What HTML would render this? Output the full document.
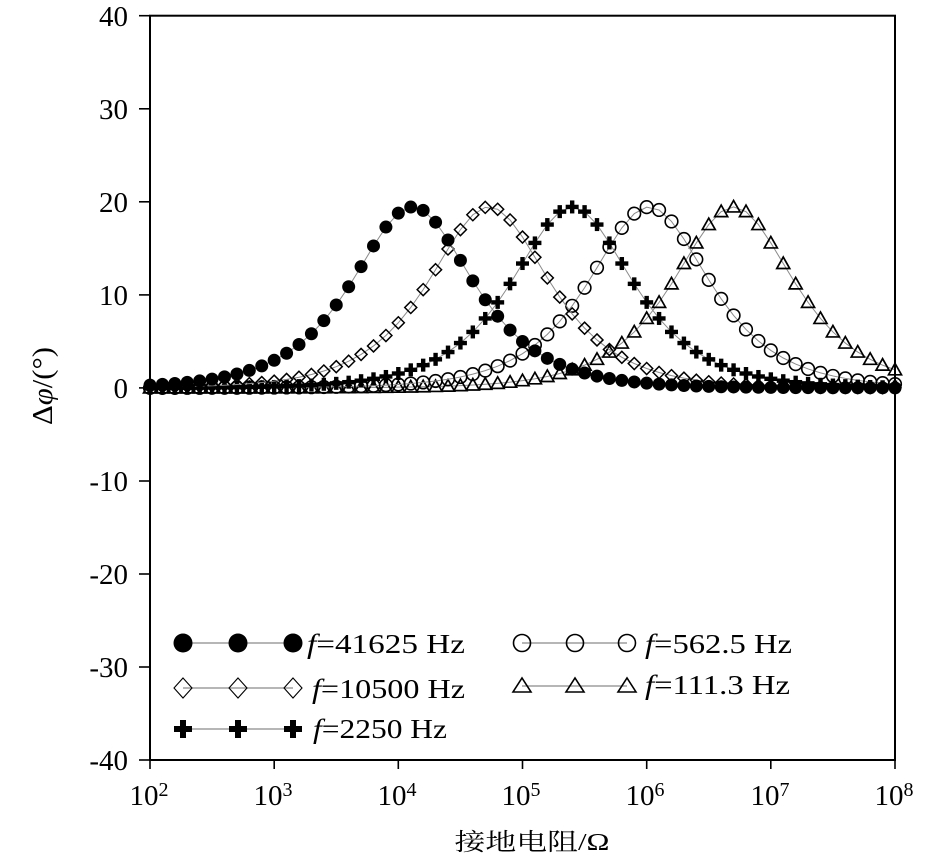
<!DOCTYPE html>
<html>
<head>
<meta charset="utf-8">
<style>
  html,body{margin:0;padding:0;background:#fff;}
  svg{display:block;}
  svg text{fill:#000;font-family:"Liberation Serif","Noto Serif CJK SC",serif;}
  svg text.cjk{font-family:"Liberation Serif","Noto Serif CJK SC","Noto Sans CJK SC",serif;}
</style>
</head>
<body>
<svg id="chart" xmlns="http://www.w3.org/2000/svg" width="945" height="859" viewBox="0 0 945 859">
  <rect x="0" y="0" width="945" height="859" fill="#fff"/>
  <g id="data"></g>
  <!-- axes box -->
  <rect x="150" y="15.7" width="745" height="744.3" fill="none" stroke="#000" stroke-width="2"/>
  <!-- ticks -->
  <g stroke="#000" stroke-width="1.6">
    <line x1="139" y1="15.7" x2="150" y2="15.7"/>
    <line x1="139" y1="108.8" x2="150" y2="108.8"/>
    <line x1="139" y1="201.8" x2="150" y2="201.8"/>
    <line x1="139" y1="294.9" x2="150" y2="294.9"/>
    <line x1="139" y1="387.9" x2="150" y2="387.9"/>
    <line x1="139" y1="481" x2="150" y2="481"/>
    <line x1="139" y1="574" x2="150" y2="574"/>
    <line x1="139" y1="667" x2="150" y2="667"/>
    <line x1="139" y1="760" x2="150" y2="760"/>
    <line x1="150" y1="760" x2="150" y2="769"/>
    <line x1="274.2" y1="760" x2="274.2" y2="769"/>
    <line x1="398.3" y1="760" x2="398.3" y2="769"/>
    <line x1="522.5" y1="760" x2="522.5" y2="769"/>
    <line x1="646.7" y1="760" x2="646.7" y2="769"/>
    <line x1="770.8" y1="760" x2="770.8" y2="769"/>
    <line x1="895" y1="760" x2="895" y2="769"/>
  </g>
  <!-- y tick labels -->
  <g font-size="29" text-anchor="end">
    <text x="128" y="26">40</text>
    <text x="128" y="119">30</text>
    <text x="128" y="212">20</text>
    <text x="128" y="305">10</text>
    <text x="128" y="398">0</text>
    <text x="128" y="491">-10</text>
    <text x="128" y="584">-20</text>
    <text x="128" y="677">-30</text>
    <text x="128" y="770">-40</text>
  </g>
  <!-- x tick labels -->
  <g font-size="29" text-anchor="middle">
    <text x="149" y="805">10<tspan font-size="20" dy="-9">2</tspan></text>
    <text x="273" y="805">10<tspan font-size="20" dy="-9">3</tspan></text>
    <text x="397" y="805">10<tspan font-size="20" dy="-9">4</tspan></text>
    <text x="521" y="805">10<tspan font-size="20" dy="-9">5</tspan></text>
    <text x="645" y="805">10<tspan font-size="20" dy="-9">6</tspan></text>
    <text x="770" y="805">10<tspan font-size="20" dy="-9">7</tspan></text>
    <text x="894" y="805">10<tspan font-size="20" dy="-9">8</tspan></text>
  </g>
  <!-- axis titles -->
  <text transform="translate(52,386) rotate(-90)" text-anchor="middle" font-size="28" textLength="78" lengthAdjust="spacingAndGlyphs">Δ<tspan font-style="italic">φ</tspan>/(°)</text>
  <text class="cjk" x="532" y="850" text-anchor="middle" font-size="24" textLength="155" lengthAdjust="spacingAndGlyphs">接地电阻/Ω</text>

  <!-- legend -->
  <g stroke="#8a8a8a" stroke-width="1.2">
    <line x1="183" y1="643" x2="293" y2="643"/>
    <line x1="183" y1="688" x2="293" y2="688"/>
    <line x1="183" y1="729" x2="293" y2="729"/>
    <line x1="522" y1="643" x2="627" y2="643"/>
    <line x1="522" y1="686" x2="627" y2="686"/>
  </g>
  <g fill="#000">
    <circle cx="183" cy="643" r="9.5"/><circle cx="238" cy="643" r="9.5"/><circle cx="293" cy="643" r="9.5"/>
  </g>
  <g fill="none" stroke="#000" stroke-width="1.1">
    <polygon points="183,678 192,688 183,698 174,688"/>
    <polygon points="238,678 247,688 238,698 229,688"/>
    <polygon points="293,678 302,688 293,698 284,688"/>
  </g>
  <g fill="#000">
    <rect x="174" y="726" width="18" height="6"/><rect x="180" y="720" width="6" height="18"/>
    <rect x="229" y="726" width="18" height="6"/><rect x="235" y="720" width="6" height="18"/>
    <rect x="284" y="726" width="18" height="6"/><rect x="290" y="720" width="6" height="18"/>
  </g>
  <g fill="none" stroke="#000" stroke-width="1.6">
    <circle cx="522" cy="643" r="8.5"/><circle cx="575" cy="643" r="8.5"/><circle cx="627" cy="643" r="8.5"/>
    <polygon points="513,692 531,692 522,678"/>
    <polygon points="566,692 584,692 575,678"/>
    <polygon points="618,692 636,692 627,678"/>
  </g>
  <g font-size="27">
    <text x="307" y="653" textLength="158" lengthAdjust="spacingAndGlyphs"><tspan font-style="italic">f</tspan>=41625 Hz</text>
    <text x="312" y="698" textLength="153" lengthAdjust="spacingAndGlyphs"><tspan font-style="italic">f</tspan>=10500 Hz</text>
    <text x="313" y="738" textLength="134" lengthAdjust="spacingAndGlyphs"><tspan font-style="italic">f</tspan>=2250 Hz</text>
    <text x="645" y="653" textLength="147" lengthAdjust="spacingAndGlyphs"><tspan font-style="italic">f</tspan>=562.5 Hz</text>
    <text x="645" y="694" textLength="145" lengthAdjust="spacingAndGlyphs"><tspan font-style="italic">f</tspan>=111.3 Hz</text>
  </g>
</svg>
<script>
(function(){
  var peaks=[4.115,4.73,5.40,6.02,6.70];
  var A=19.45;
  function X(k){return 150+k*745/60;}
  function Y(v){return 387.9-v*9.304;}
  function val(k,p){var x=Math.pow(10,2+k/10-p);return 2*A*x/(1+x*x);}
  function marker(s,x,y){
    var xf=parseFloat(x.toFixed(2)); var yf=parseFloat(y.toFixed(2));
    switch(s){
      case 0: return '<circle cx="'+xf+'" cy="'+yf+'" r="6.5" fill="#000"/>';
      case 1: return '<polygon points="'+xf+','+(yf-6)+' '+(xf+6)+','+yf+' '+xf+','+(yf+6)+' '+(xf-6)+','+yf+'" fill="none" stroke="#000" stroke-width="1.5"/>';
      case 2: return '<rect x="'+(xf-6.5)+'" y="'+(yf-2.2)+'" width="13" height="4.4" fill="#000"/><rect x="'+(xf-2.2)+'" y="'+(yf-6.5)+'" width="4.4" height="13" fill="#000"/>';
      case 3: return '<circle cx="'+xf+'" cy="'+yf+'" r="6.3" fill="none" stroke="#000" stroke-width="1.6"/>';
      case 4: return '<polygon points="'+(xf-6.5)+','+(yf+5)+' '+(xf+6.5)+','+(yf+5)+' '+xf+','+(yf-6.5)+'" fill="none" stroke="#000" stroke-width="1.7"/>';
    }
  }
  var out='';
  for(var s=4;s>=0;s--){
    var pts=[];
    for(var k=0;k<=60;k++){pts.push(X(k).toFixed(2)+','+Y(val(k,peaks[s])).toFixed(2));}
    out+='<polyline points="'+pts.join(' ')+'" fill="none" stroke="#8a8a8a" stroke-width="1"/>';
    for(var k=0;k<=60;k++){out+=marker(s,X(k),Y(val(k,peaks[s])));}
  }
  document.getElementById('data').innerHTML=out;
})();
</script>
</body>
</html>
